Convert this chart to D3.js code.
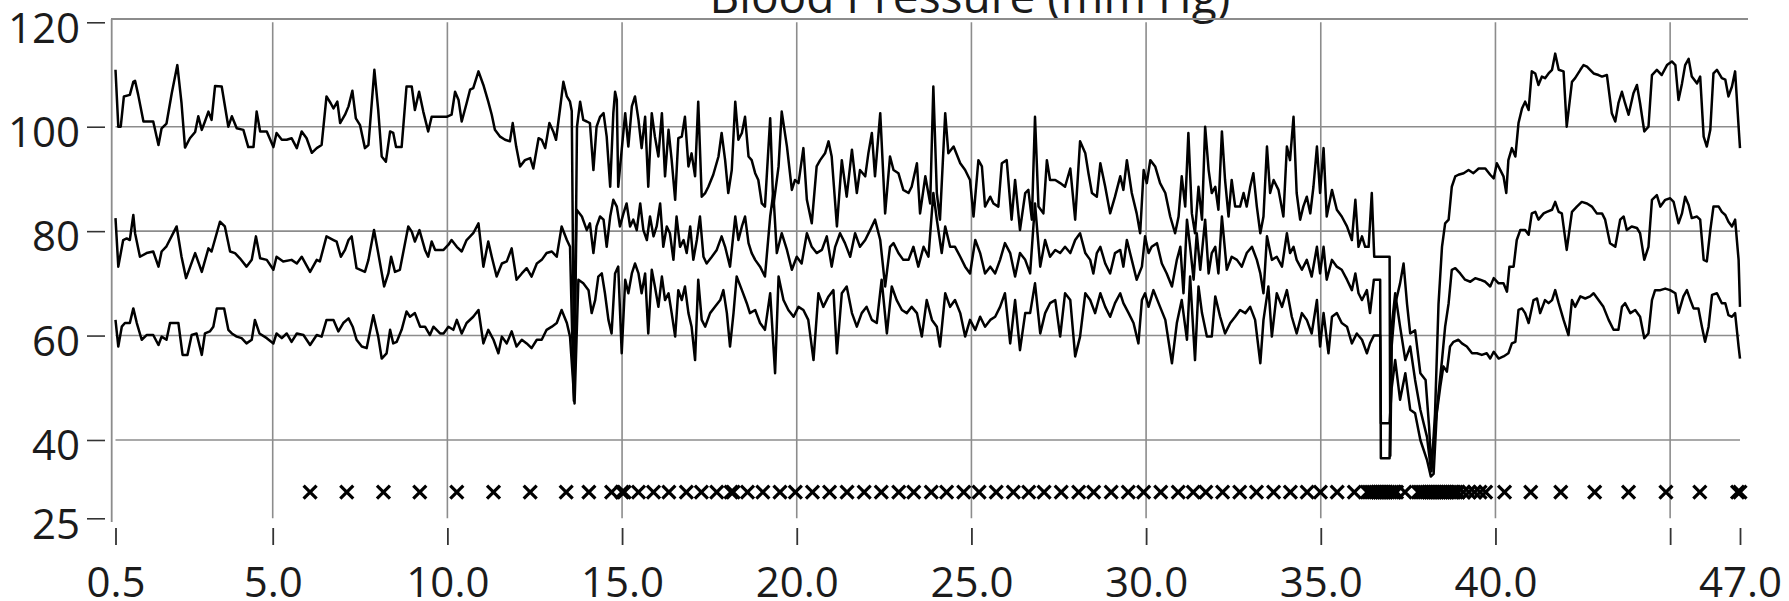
<!DOCTYPE html>
<html>
<head>
<meta charset="utf-8">
<script src="https://cdn.jsdelivr.net/npm/d3@7"></script>
<style>
  html, body { margin: 0; padding: 0; background: #fff; }
  svg { display: block; }
</style>
</head>
<body>
<svg id="chart" width="1789" height="601"></svg>
<script>
// Blood pressure trend: systolic, mean and diastolic traces (mm Hg) against time (min)
const titleText = "Blood Pressure (mm Hg)";
const xTicks = [0.5, 5, 10, 15, 20, 25, 30, 35, 40, 45, 47];
const xTickLabels = ["0.5", "5.0", "10.0", "15.0", "20.0", "25.0", "30.0", "35.0", "40.0", "", "47.0"];
const yTicks = [25, 40, 60, 80, 100, 120];
const xGrid = [5, 10, 15, 20, 25, 30, 35, 40, 45];
const yGrid = [40, 60, 80, 100];

// [time (min), pressure (mm Hg)]
const systolic = [[0.50,110.9],[0.58,100],[0.65,100],[0.74,105.8],[0.91,106.1],[1.01,108.6],[1.06,108.8],[1.15,106.1],[1.30,101],[1.39,101],[1.58,101],[1.73,96.5],[1.82,99.7],[1.96,100.6],[2.11,106.4],[2.27,111.8],[2.39,104.5],[2.49,96],[2.63,97.8],[2.78,99],[2.87,102],[2.97,99.4],[3.06,101],[3.16,102.9],[3.25,101.3],[3.35,107.8],[3.54,107.7],[3.73,100],[3.83,102],[3.97,99.7],[4.16,99.4],[4.30,96.1],[4.45,96.1],[4.54,102.9],[4.64,99.1],[4.83,99.1],[5.02,96.1],[5.11,98.8],[5.26,97.5],[5.40,97.5],[5.54,97.8],[5.69,95.9],[5.83,99.1],[5.97,97.8],[6.12,95],[6.26,95.9],[6.40,96.5],[6.54,105.8],[6.66,104.5],[6.74,103.5],[6.85,104.8],[6.93,100.7],[7.07,102.3],[7.17,103.9],[7.28,106.9],[7.38,101.6],[7.50,100.3],[7.64,95.9],[7.74,96.5],[7.91,110.9],[8.02,103.2],[8.12,94.3],[8.24,93.3],[8.36,99.1],[8.45,98.8],[8.53,96.1],[8.69,96.1],[8.83,107.7],[8.98,107.7],[9.07,103.2],[9.19,106.7],[9.31,102.9],[9.45,99.1],[9.55,101.9],[9.79,101.9],[9.98,101.9],[10.12,102.3],[10.22,106.7],[10.32,105.1],[10.41,101],[10.55,104.5],[10.65,107.1],[10.74,107.4],[10.89,110.6],[11.03,108],[11.17,104.8],[11.27,102.3],[11.36,99.4],[11.51,98.1],[11.65,97.5],[11.79,97.2],[11.87,100.7],[11.97,96.2],[12.08,92.4],[12.22,93.6],[12.37,94],[12.46,92],[12.61,97.8],[12.70,97.5],[12.80,95.9],[12.92,100.7],[13.03,99.1],[13.11,97.5],[13.22,103.2],[13.32,108.6],[13.42,105.8],[13.51,104.8],[13.56,103],[13.63,49],[13.71,100],[13.80,104.8],[13.89,101.3],[13.99,101],[14.08,100.7],[14.18,91.7],[14.27,100],[14.37,101.9],[14.47,102.6],[14.56,98.1],[14.66,88.5],[14.75,102.6],[14.80,106.7],[14.85,105.1],[14.89,88.5],[14.99,95.6],[15.09,102.6],[15.18,96.2],[15.28,103.9],[15.37,105.8],[15.47,101.3],[15.56,95.9],[15.66,101.9],[15.75,88.5],[15.85,102.6],[15.94,98.1],[16.04,94.3],[16.14,102.6],[16.23,90.5],[16.33,99.4],[16.42,93.6],[16.52,86],[16.61,97.8],[16.71,98.1],[16.80,101.9],[16.90,92.4],[16.99,94.9],[17.09,90.5],[17.18,104.8],[17.28,86.6],[17.38,87.3],[17.47,88.5],[17.61,90.8],[17.76,94.3],[17.85,98.8],[17.95,93.6],[18.04,87.3],[18.14,91.7],[18.24,104.8],[18.33,97.5],[18.43,98.8],[18.52,101.9],[18.62,94.3],[18.71,93.6],[18.81,91.1],[18.90,89.8],[19.00,85.3],[19.09,84.7],[19.24,101.6],[19.33,84.7],[19.48,92.4],[19.57,102.9],[19.72,96.2],[19.86,87.9],[19.95,89.8],[20.05,89.2],[20.19,95.9],[20.29,86],[20.43,81.5],[20.57,92.4],[20.67,93.6],[20.81,94.9],[20.91,97.2],[21.00,94.3],[21.15,80.9],[21.29,93.6],[21.43,86.6],[21.58,95.6],[21.72,87.3],[21.81,91.7],[21.96,90.5],[22.05,94.9],[22.15,98.8],[22.24,90.5],[22.39,102.6],[22.53,83.4],[22.67,94.3],[22.77,91.7],[22.91,91.1],[23.05,87.9],[23.20,87.3],[23.29,88.5],[23.44,93],[23.53,83.4],[23.68,90.5],[23.82,85.3],[23.91,107.7],[24.01,87.3],[24.10,82.2],[24.25,102.6],[24.34,94.9],[24.49,96.2],[24.68,93],[24.82,91.7],[24.96,89.8],[25.06,82.8],[25.20,93.6],[25.30,92.4],[25.39,84.7],[25.54,86.6],[25.63,85.3],[25.77,84.7],[25.87,93],[26.01,93.6],[26.15,82.2],[26.25,89.8],[26.39,80.2],[26.54,87.3],[26.63,87.9],[26.73,82.2],[26.82,101.9],[26.92,84.7],[27.06,83.4],[27.16,93.6],[27.25,89.8],[27.40,89.8],[27.54,89.2],[27.68,88.5],[27.83,92],[27.97,82.2],[28.11,97.2],[28.26,94.9],[28.35,91.1],[28.45,87.3],[28.59,86.6],[28.69,93],[28.83,88.5],[28.97,83.4],[29.11,86.6],[29.26,90.5],[29.35,87.9],[29.45,93.6],[29.59,87.3],[29.73,83.4],[29.83,79.6],[29.93,91.7],[30.02,89.2],[30.12,93.6],[30.26,92.4],[30.40,89.2],[30.55,87.3],[30.69,82.8],[30.83,79.6],[30.93,82.8],[31.02,90.5],[31.12,84.7],[31.21,98.8],[31.31,83.4],[31.40,79.6],[31.50,88.5],[31.60,82.2],[31.69,100],[31.79,91.7],[31.88,87.3],[31.98,88.5],[32.07,84.1],[32.17,99.1],[32.26,89.8],[32.36,82.8],[32.45,89.8],[32.55,84.7],[32.69,84.7],[32.79,87.3],[32.88,84.7],[32.98,88.5],[33.07,91.1],[33.17,84.7],[33.27,79.6],[33.36,82.8],[33.46,96.2],[33.55,87.3],[33.65,89.8],[33.79,87.9],[33.93,82.8],[34.03,96.2],[34.12,93.6],[34.22,101.9],[34.31,87.3],[34.41,82.2],[34.50,84.7],[34.60,86.6],[34.70,83.4],[34.79,88.5],[34.89,96.2],[34.98,87.3],[35.08,95.9],[35.17,82.8],[35.32,87.9],[35.46,84.1],[35.60,82.8],[35.75,80.9],[35.89,78.3],[35.99,86],[36.08,77],[36.18,79],[36.27,77],[36.37,77],[36.46,87.3],[36.53,75.1],[36.97,75.1],[36.99,37],[37.03,58],[37.13,66],[37.27,70],[37.37,73.8],[37.47,66],[37.56,60.4],[37.70,61],[37.85,52.8],[38.00,51.5],[38.10,42.6],[38.17,34],[38.27,45],[38.37,66],[38.47,77],[38.56,81.5],[38.66,82.2],[38.75,88.5],[38.85,90.5],[38.94,90.8],[39.09,91.1],[39.23,91.7],[39.37,91.1],[39.52,92],[39.71,92],[39.85,90.8],[39.95,90.1],[40.04,93],[40.14,91.7],[40.23,90.5],[40.31,87.3],[40.37,93.6],[40.47,95.9],[40.57,94.3],[40.66,100.7],[40.76,103.5],[40.85,104.8],[40.95,103.2],[41.04,110.6],[41.14,110.2],[41.23,108],[41.33,109.6],[41.42,109.3],[41.52,110.2],[41.62,110.9],[41.71,114],[41.81,110.9],[41.95,110.6],[42.04,100],[42.19,108.6],[42.28,109.3],[42.43,110.9],[42.52,111.8],[42.62,111.5],[42.71,110.9],[42.81,110.2],[42.95,109.9],[43.05,109.6],[43.19,109.9],[43.33,102.6],[43.43,101],[43.52,104.5],[43.62,106.7],[43.71,104.5],[43.81,102.3],[43.95,106.4],[44.05,108],[44.14,104.5],[44.26,99.1],[44.38,100],[44.48,109.9],[44.62,110.9],[44.76,109.9],[44.91,111.8],[45.05,112.5],[45.15,111.8],[45.24,105.1],[45.34,108.3],[45.43,111.8],[45.53,113],[45.62,109.6],[45.77,108.3],[45.86,109.6],[45.96,98.1],[46.05,96.2],[46.15,99.4],[46.24,110.2],[46.34,110.9],[46.48,109.3],[46.58,109],[46.67,105.8],[46.77,107.7],[46.86,110.6],[46.96,100],[47.00,95.9]];

const mean = [[0.50,82.5],[0.58,73.2],[0.72,78.3],[0.82,78.6],[0.91,78.3],[1.01,83.1],[1.06,79.6],[1.20,75.1],[1.39,75.8],[1.58,76.1],[1.73,73.2],[1.82,76.1],[1.96,77.1],[2.25,80.9],[2.39,75.1],[2.52,71],[2.78,75.8],[2.97,72.2],[3.16,76.7],[3.25,76.1],[3.49,81.8],[3.63,80.9],[3.78,76.1],[3.92,75.8],[4.06,74.8],[4.25,73.2],[4.40,74.5],[4.52,79],[4.64,74.8],[4.83,74.5],[5.02,72.6],[5.11,75.1],[5.30,74.2],[5.54,74.5],[5.69,73.8],[5.83,75.1],[6.07,72.2],[6.26,74.5],[6.35,74.2],[6.54,79],[6.74,78.3],[6.83,78],[6.95,75.1],[7.07,76.4],[7.17,78.3],[7.26,79],[7.40,72.9],[7.64,72.2],[7.74,74.5],[7.90,80.2],[8.02,75.8],[8.19,69.4],[8.31,71.9],[8.39,75.1],[8.50,72.2],[8.64,72.6],[8.88,80.9],[8.98,79.9],[9.07,78],[9.20,80.2],[9.36,76.4],[9.45,75.1],[9.55,78],[9.65,76.4],[9.89,76.4],[10.03,77.4],[10.12,78.3],[10.27,77],[10.41,76.1],[10.55,78.3],[10.74,79.6],[10.89,81.5],[11.03,73.2],[11.17,78],[11.27,75.1],[11.41,71.3],[11.56,73.8],[11.70,74.2],[11.84,76.7],[11.98,70.7],[12.13,71.9],[12.27,72.9],[12.41,71.3],[12.56,73.8],[12.70,74.5],[12.84,75.8],[12.99,76.1],[13.13,75.1],[13.27,80.9],[13.42,78.3],[13.51,77],[13.62,47.5],[13.70,84.1],[13.85,82.8],[13.99,80.2],[14.08,81.5],[14.18,75.8],[14.27,80.9],[14.37,82.8],[14.47,82.2],[14.56,77],[14.66,82.8],[14.75,86],[14.85,84.7],[14.94,80.9],[15.04,83.4],[15.13,85.3],[15.23,80.9],[15.32,82.2],[15.42,80.2],[15.52,85.3],[15.61,80.2],[15.71,78.3],[15.80,82.8],[15.90,79],[15.99,80.9],[16.09,85.3],[16.18,77],[16.28,80.9],[16.37,79.6],[16.47,74.5],[16.56,82.8],[16.66,77],[16.76,78.3],[16.85,75.8],[16.95,80.9],[17.04,74.5],[17.14,78.3],[17.23,82.8],[17.33,75.1],[17.42,73.8],[17.57,75.1],[17.71,76.4],[17.85,79],[17.95,77],[18.09,73.2],[18.24,82.8],[18.33,78.3],[18.43,80.9],[18.52,82.8],[18.62,77.7],[18.71,75.8],[18.81,74.5],[18.95,73.2],[19.09,71.3],[19.24,82.8],[19.33,87.3],[19.43,75.8],[19.57,79.6],[19.72,76.4],[19.86,72.6],[20.00,75.1],[20.14,73.8],[20.29,79.6],[20.43,77],[20.57,75.8],[20.72,76.4],[20.86,79],[21.00,73.2],[21.10,77],[21.24,79.6],[21.38,77.7],[21.53,75.1],[21.67,79.6],[21.81,77],[21.96,78.3],[22.10,80.2],[22.24,82.2],[22.39,78.3],[22.53,69.4],[22.67,77],[22.77,77.7],[22.91,75.8],[23.05,74.5],[23.20,74.5],[23.34,77],[23.48,73.2],[23.63,77],[23.77,75.1],[23.91,87.3],[24.01,82.2],[24.15,75.8],[24.25,80.9],[24.39,77],[24.53,77],[24.68,75.1],[24.82,73.2],[24.96,71.9],[25.11,78.3],[25.25,75.8],[25.39,71.9],[25.54,73.2],[25.68,71.9],[25.82,74.5],[25.96,77.7],[26.11,75.8],[26.25,71.3],[26.39,75.8],[26.54,74.5],[26.68,71.9],[26.82,85.3],[26.97,73.2],[27.11,78.3],[27.25,75.1],[27.40,76.4],[27.54,75.8],[27.68,77],[27.83,75.8],[27.97,78.3],[28.11,79.6],[28.26,75.8],[28.40,74.5],[28.49,71.9],[28.59,75.8],[28.69,77],[28.83,73.8],[28.97,71.9],[29.11,75.8],[29.26,76.4],[29.35,73.2],[29.45,78.3],[29.59,74.5],[29.73,70.7],[29.88,73.2],[29.97,79],[30.07,75.8],[30.16,77],[30.31,77.7],[30.45,73.8],[30.59,71.9],[30.74,69.4],[30.88,74.5],[30.98,77],[31.07,68.1],[31.17,82.2],[31.26,77],[31.36,70.7],[31.45,79.6],[31.55,72.6],[31.69,82.2],[31.79,71.9],[31.88,75.8],[31.98,77],[32.07,71.9],[32.17,82.8],[32.31,72.6],[32.45,75.1],[32.60,74.5],[32.74,73.2],[32.88,75.8],[33.03,77],[33.17,74.5],[33.27,71.9],[33.36,68.1],[33.46,79],[33.60,74.5],[33.74,75.1],[33.89,73.2],[34.03,79.6],[34.12,75.8],[34.22,77],[34.31,74.5],[34.46,72.6],[34.60,74.5],[34.74,71.3],[34.89,77],[34.98,71.9],[35.08,77],[35.17,70.7],[35.32,74.5],[35.46,73.2],[35.60,72.6],[35.75,70.7],[35.89,68.7],[35.99,71.9],[36.08,68.1],[36.18,66.8],[36.32,68.7],[36.41,64.3],[36.52,70.7],[36.70,70.7],[36.72,36.5],[36.97,36.5],[37.03,61.7],[37.13,68.1],[37.27,61.7],[37.42,55.3],[37.56,57.9],[37.70,51.5],[37.85,45.8],[38.04,40.6],[38.15,34.5],[38.23,39.4],[38.37,48.9],[38.47,55.3],[38.56,61.7],[38.66,66.2],[38.75,72.6],[38.85,72.9],[38.99,71.9],[39.13,70.7],[39.28,70.3],[39.42,71],[39.56,70.7],[39.71,70.3],[39.85,69.4],[39.95,71],[40.09,70],[40.23,70],[40.33,68.4],[40.40,73.2],[40.52,73.2],[40.61,78.3],[40.71,80.2],[40.85,80.2],[40.95,79.3],[41.04,83.4],[41.14,83.7],[41.23,82.2],[41.38,83.4],[41.47,83.7],[41.62,84.1],[41.71,85.6],[41.81,83.7],[41.90,83.4],[42.04,76.4],[42.19,83.7],[42.33,84.7],[42.47,85.6],[42.62,85.3],[42.76,84.7],[42.90,83.4],[43.05,83.4],[43.14,82.2],[43.28,77.7],[43.43,77],[43.57,82.2],[43.67,82.8],[43.76,80.2],[43.90,80.9],[44.05,80.6],[44.14,79.6],[44.26,74.5],[44.38,77],[44.48,86],[44.62,86.9],[44.72,84.7],[44.86,86],[45.00,86.3],[45.10,85.6],[45.24,81.5],[45.34,83.4],[45.43,86.6],[45.53,85],[45.62,82.5],[45.77,82.8],[45.86,82.2],[45.96,74.5],[46.05,74.2],[46.15,80.2],[46.24,84.7],[46.39,84.7],[46.48,83.7],[46.58,83.1],[46.67,81.8],[46.77,80.9],[46.86,82.2],[46.96,74.5],[47.00,65.5]];

const diastolic = [[0.50,63],[0.58,57.9],[0.68,61.7],[0.77,62.4],[0.91,62.4],[1.01,65.2],[1.11,62.4],[1.25,59.2],[1.39,60.1],[1.58,60.1],[1.73,58.2],[1.82,59.8],[1.96,59.2],[2.06,62.4],[2.30,62.4],[2.42,56.3],[2.56,56.3],[2.68,60.1],[2.82,60.4],[2.97,56.3],[3.06,60.4],[3.20,60.8],[3.30,61.7],[3.40,65.2],[3.61,65.2],[3.73,61.1],[3.83,60.4],[3.97,59.8],[4.11,59.5],[4.25,58.5],[4.40,59.2],[4.49,63],[4.62,60.4],[4.83,59.5],[5.02,58.5],[5.11,60.4],[5.26,59.5],[5.40,60.4],[5.54,58.8],[5.69,60.4],[5.88,60.1],[6.07,58.2],[6.26,60.1],[6.40,59.8],[6.54,63],[6.74,63],[6.88,60.8],[7.02,62.4],[7.17,63.3],[7.29,61.7],[7.40,59.2],[7.55,57.9],[7.69,57.6],[7.88,63.9],[8.02,59.8],[8.12,55.6],[8.26,56.6],[8.36,61.1],[8.45,58.5],[8.55,58.8],[8.69,61.1],[8.83,64.6],[8.93,63.6],[9.07,64.3],[9.22,61.7],[9.36,61.7],[9.50,60.1],[9.60,61.7],[9.79,60.4],[9.89,60.4],[10.03,61.7],[10.17,61.1],[10.27,63],[10.41,60.4],[10.55,62.4],[10.74,63.6],[10.89,64.9],[11.03,58.5],[11.17,61.1],[11.32,59.2],[11.46,56.6],[11.56,59.8],[11.70,58.5],[11.84,60.8],[11.98,57.9],[12.13,59.2],[12.27,58.5],[12.41,57.6],[12.56,59.2],[12.70,59.2],[12.84,61.1],[12.99,61.7],[13.13,62.4],[13.27,64.9],[13.42,62.4],[13.51,59.8],[13.64,47],[13.75,70.7],[13.89,70],[14.04,68.7],[14.13,64.3],[14.23,66.8],[14.32,71.3],[14.42,71.9],[14.51,68.1],[14.61,63],[14.70,60.4],[14.80,71.9],[14.89,73.2],[14.99,56.6],[15.09,70.7],[15.18,68.1],[15.28,71.9],[15.37,73.8],[15.47,71.9],[15.56,68.1],[15.66,71.9],[15.75,60.4],[15.85,72.6],[15.94,69.4],[16.04,65.5],[16.14,71.3],[16.23,66.8],[16.33,68.1],[16.42,64.3],[16.52,59.8],[16.61,68.7],[16.71,66.8],[16.80,69.4],[16.90,64.3],[16.99,61.7],[17.09,55.3],[17.18,70.7],[17.28,63],[17.38,61.7],[17.52,64.3],[17.66,65.5],[17.81,66.8],[17.90,68.7],[18.00,64.3],[18.09,57.9],[18.19,64.3],[18.28,71.3],[18.43,68.7],[18.57,66.2],[18.66,64.3],[18.81,64.9],[18.95,62.4],[19.09,61.1],[19.24,68.1],[19.38,52.8],[19.48,71.3],[19.62,66.8],[19.76,64.9],[19.91,63.6],[20.05,65.5],[20.19,64.9],[20.33,63],[20.48,55.3],[20.62,68.1],[20.76,65.5],[20.91,67.5],[21.05,68.7],[21.15,56.6],[21.29,68.1],[21.43,69.4],[21.58,64.3],[21.72,61.7],[21.86,64.3],[22.00,65.5],[22.15,63],[22.29,62.4],[22.43,70.7],[22.58,60.4],[22.72,69.4],[22.86,66.8],[23.01,64.9],[23.15,64.3],[23.29,65.5],[23.44,64.3],[23.58,59.8],[23.72,66.8],[23.87,63],[24.01,61.7],[24.10,57.9],[24.25,68.1],[24.39,65.5],[24.53,66.8],[24.68,64.3],[24.82,59.8],[24.96,63],[25.11,61.1],[25.25,63.6],[25.39,61.7],[25.54,63],[25.68,63.6],[25.82,65.5],[25.96,68.1],[26.11,58.5],[26.25,66.8],[26.39,57.2],[26.54,64.3],[26.68,64.3],[26.82,70],[26.97,60.4],[27.11,64.3],[27.25,66.2],[27.40,66.8],[27.54,59.8],[27.68,68.1],[27.83,66.8],[27.97,56],[28.11,59.8],[28.26,68.1],[28.40,66.8],[28.54,64.3],[28.69,68.1],[28.83,65.5],[28.97,63.6],[29.11,66.2],[29.26,68.1],[29.35,66.2],[29.50,64.3],[29.64,62.4],[29.78,58.5],[29.88,66.8],[29.97,68.1],[30.07,65.5],[30.21,68.7],[30.40,65.5],[30.55,63],[30.74,54.7],[30.88,62.4],[31.02,66.8],[31.17,59.2],[31.26,71.3],[31.40,55.3],[31.50,69.4],[31.60,64.3],[31.74,59.8],[31.88,59.8],[31.98,67.5],[32.12,63.6],[32.26,60.4],[32.41,62.4],[32.55,63.6],[32.69,64.9],[32.84,64.3],[32.98,65.5],[33.12,63],[33.27,54.7],[33.36,63],[33.50,69.4],[33.60,59.8],[33.74,68.1],[33.89,65.5],[34.03,68.7],[34.17,63.6],[34.31,60.4],[34.46,64.3],[34.60,63],[34.74,60.4],[34.89,66.8],[34.98,57.9],[35.08,64.3],[35.22,56.6],[35.32,63.6],[35.46,64.3],[35.60,62.4],[35.75,61.7],[35.89,58.5],[36.03,60.4],[36.18,59.2],[36.32,56.6],[36.41,58.5],[36.52,60],[36.70,60],[36.72,43.2],[36.97,43.2],[37.03,50],[37.13,55.3],[37.27,47.7],[37.42,52.8],[37.56,45.8],[37.70,45.1],[37.85,40],[38.04,36.2],[38.15,33],[38.23,33.5],[38.32,45.1],[38.42,50.2],[38.51,54.1],[38.61,53.1],[38.70,57.9],[38.80,58.8],[38.94,59.2],[39.04,58.5],[39.18,57.9],[39.33,56.6],[39.47,56.6],[39.61,56.3],[39.75,56.6],[39.85,55.6],[39.95,56.9],[40.09,55.6],[40.23,56],[40.37,56.6],[40.47,58.5],[40.57,58.8],[40.66,64.9],[40.76,65.2],[40.85,64.3],[40.95,62.4],[41.09,66.8],[41.19,67.1],[41.28,64.3],[41.42,66.8],[41.52,66.2],[41.62,66.8],[41.71,68.7],[41.81,66.2],[41.95,63],[42.09,60.1],[42.19,66.8],[42.28,65.5],[42.43,67.5],[42.57,67.1],[42.71,67.5],[42.81,68.1],[42.95,66.8],[43.09,65.5],[43.24,63],[43.38,61.1],[43.52,61.1],[43.62,65.5],[43.71,66.2],[43.86,64.3],[44.00,64.9],[44.14,63.6],[44.26,59.5],[44.38,60.4],[44.48,66.8],[44.57,68.7],[44.72,68.7],[44.86,69],[45.00,68.7],[45.15,68.1],[45.24,64.3],[45.38,67.5],[45.48,68.7],[45.58,66.8],[45.67,65.2],[45.81,65.2],[45.91,61.7],[46.00,58.8],[46.10,61.7],[46.20,67.8],[46.34,68.1],[46.48,66.2],[46.58,66.2],[46.67,63.9],[46.77,63.6],[46.86,64.3],[46.96,57.9],[47.00,55.6]];

// Event markers (min), drawn on a fixed baseline level
const markerTimes = [6.07,7.12,8.17,9.21,10.27,11.32,12.37,13.40,14.05,14.70,15.00,15.06,15.47,15.90,16.34,16.84,17.27,17.71,18.12,18.18,18.59,19.03,19.52,19.96,20.45,20.94,21.44,21.93,22.42,22.92,23.35,23.85,24.29,24.78,25.22,25.71,26.20,26.64,27.08,27.57,28.07,28.50,29.00,29.49,29.93,30.42,30.92,31.35,31.71,32.19,32.68,33.16,33.65,34.13,34.61,34.99,35.47,35.96,36.33,36.39,36.45,36.51,36.57,36.63,36.69,36.75,36.81,36.87,36.93,36.99,37.05,37.11,37.17,37.41,37.79,37.85,37.91,37.97,38.03,38.09,38.15,38.21,38.27,38.33,38.39,38.45,38.51,38.57,38.63,38.69,38.75,38.81,38.87,38.93,39.08,39.24,39.40,39.56,39.72,40.26,41.01,41.87,42.84,43.81,44.88,45.85,46.93,47.00];
const markerLevel = 30;

const svg = d3.select("#chart");
const FONT = "'Open Sans', 'Noto Sans', sans-serif";
const GRID = "#8c8c8c";
const INK = "#1b1b1b";

const x = d3.scaleLinear().domain([0.5, 47]).range([115.5, 1740]);
const y = d3.scaleLinear().domain([25, 120]).range([518.3, 22.3]);

// title (partly above the top edge)
svg.append("text")
  .attr("x", 970).attr("y", 13)
  .attr("text-anchor", "middle")
  .attr("font-family", FONT).attr("font-size", 46)
  .attr("fill", INK)
  .text(titleText);

// grid
const grid = svg.append("g").attr("stroke", GRID).attr("stroke-width", 1.6);
grid.selectAll("line.v").data(xGrid).join("line")
  .attr("x1", d => x(d)).attr("x2", d => x(d))
  .attr("y1", y(120)).attr("y2", y(25));
grid.selectAll("line.h").data(yGrid).join("line")
  .attr("x1", x(0.5)).attr("x2", x(47))
  .attr("y1", d => y(d)).attr("y2", d => y(d));

// frame: left axis line and top edge
svg.append("line").attr("x1", 111.7).attr("x2", 111.7).attr("y1", 19).attr("y2", 522)
  .attr("stroke", GRID).attr("stroke-width", 1.8);
svg.append("line").attr("x1", 111).attr("x2", 1748).attr("y1", 19).attr("y2", 19)
  .attr("stroke", GRID).attr("stroke-width", 1.8);

// y axis
const yAxis = svg.append("g").attr("transform", "translate(105,0)")
  .call(d3.axisLeft(y).tickValues(yTicks).tickFormat(d3.format("d")).tickSize(18).tickPadding(7));
yAxis.select(".domain").remove();
yAxis.selectAll(".tick line").attr("stroke", "#333").attr("stroke-width", 1.6);
yAxis.selectAll(".tick text")
  .attr("font-family", FONT).attr("font-size", 42).attr("fill", INK).attr("dy", "0.47em");

// x axis
const xAxis = svg.append("g").attr("transform", "translate(0,528)")
  .call(d3.axisBottom(x).tickValues(xTicks).tickFormat((d, i) => xTickLabels[i]).tickSize(17).tickPadding(22));
xAxis.select(".domain").remove();
xAxis.selectAll(".tick line").attr("stroke", "#333").attr("stroke-width", 1.8);
xAxis.selectAll(".tick text")
  .attr("font-family", FONT).attr("font-size", 42).attr("fill", INK);

// traces
const line = d3.line().x(d => x(d[0])).y(d => y(d[1]));
svg.append("g").selectAll("path").data([systolic, mean, diastolic]).join("path")
  .attr("d", line)
  .attr("fill", "none").attr("stroke", "#000").attr("stroke-width", 2.5)
  .attr("stroke-linejoin", "round");

// markers
svg.append("g").selectAll("path").data(markerTimes).join("path")
  .attr("transform", d => `translate(${x(d)},${y(markerLevel)})`)
  .attr("d", "M-6.5,-6.5L6.5,6.5M-6.5,6.5L6.5,-6.5")
  .attr("stroke", "#000").attr("stroke-width", 3.2).attr("fill", "none");
</script>
</body>
</html>
